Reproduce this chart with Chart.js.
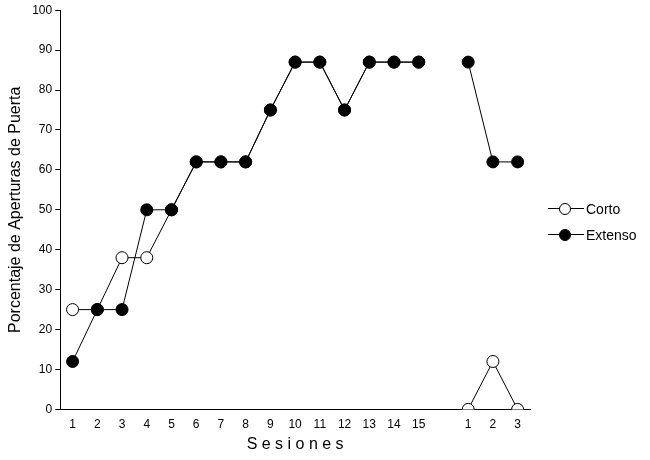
<!DOCTYPE html>
<html>
<head>
<meta charset="utf-8">
<script src="https://cdn.jsdelivr.net/npm/chart.js@4"></script>
<style>
  body { margin: 0; background: #fff; font-family: "Liberation Sans", Arial, sans-serif; }
  #wrap { position: relative; width: 650px; height: 460px; }
  #legend { position: absolute; left: 548px; top: 196px; font-size: 14px; }
  .item { display: flex; align-items: center; height: 26px; }
  .mark { position: relative; width: 36px; height: 14px; margin-right: 2px; }
  .mark::before { content: ""; position: absolute; left: 0; right: 0; top: 6px; border-top: 1px solid #000; }
  .mark span { position: absolute; left: 11px; top: 1px; width: 10px; height: 10px; border: 1px solid #000; border-radius: 50%; }
</style>
</head>
<body>
<div id="wrap">
  <canvas id="chart" width="650" height="460"></canvas>
  <div id="legend">
    <div class="item"><div class="mark"><span style="background:#fff"></span></div>Corto</div>
    <div class="item"><div class="mark"><span style="background:#000"></span></div>Extenso</div>
  </div>
</div>
<script>
// positions 1-15 first phase, 16 = gap, 17-19 second phase
const positions = [1, 2, 3, 4, 5, 6, 7, 8, 9, 10, 11, 12, 13, 14, 15, 16, 17, 18, 19];
const tickLabels = ["1","2","3","4","5","6","7","8","9","10","11","12","13","14","15","","1","2","3"];
const corto = [25, 25, 38, 38, 50, 62, 62, 62, 75, 87, 87, 75, 87, 87, 87, null, 0, 12, 0];
const extenso = [12, 25, 25, 50, 50, 62, 62, 62, 75, 87, 87, 75, 87, 87, 87, null, 87, 62, 62];

const toPoints = (vals) => positions.map((x, i) => ({ x: x, y: vals[i] }));

const series = (label, vals, fill) => ({
  label: label,
  data: toPoints(vals),
  borderColor: "#000",
  borderWidth: 1,
  backgroundColor: fill,
  pointBackgroundColor: fill,
  pointBorderColor: "#000",
  pointBorderWidth: 1,
  pointRadius: 6,
  spanGaps: false,
  tension: 0
});

new Chart(document.getElementById("chart"), {
  type: "line",
  data: {
    datasets: [series("Extenso", extenso, "#000"), series("Corto", corto, "#fff")]
  },
  options: {
    responsive: false,
    animation: false,
    layout: { padding: { top: 4, right: 120, left: 2, bottom: 2 } },
    plugins: { legend: { display: false }, tooltip: { enabled: false } },
    scales: {
      x: {
        type: "linear",
        min: 0.5,
        max: 19.5,
        afterBuildTicks: (axis) => {
          axis.ticks = positions.filter((p) => p !== 16).map((p) => ({ value: p }));
        },
        ticks: {
          autoSkip: false,
          maxRotation: 0,
          color: "#000",
          font: { family: "Liberation Sans", size: 12 },
          callback: (v) => tickLabels[v - 1]
        },
        grid: { display: false, drawOnChartArea: false, drawTicks: true, tickLength: 5, color: "#000" },
        border: { color: "#000" },
        title: {
          display: true,
          text: "S e s i o n e s",
          color: "#000",
          font: { family: "Liberation Sans", size: 16 },
          padding: { top: 0 }
        }
      },
      y: {
        min: 0,
        max: 100,
        ticks: {
          stepSize: 10,
          color: "#000",
          font: { family: "Liberation Sans", size: 12 }
        },
        grid: { drawOnChartArea: false, drawTicks: true, tickLength: 5, color: "#000" },
        border: { color: "#000" },
        title: {
          display: true,
          text: "Porcentaje de Aperturas de Puerta",
          color: "#000",
          font: { family: "Liberation Sans", size: 16 }
        }
      }
    }
  }
});
</script>
</body>
</html>
